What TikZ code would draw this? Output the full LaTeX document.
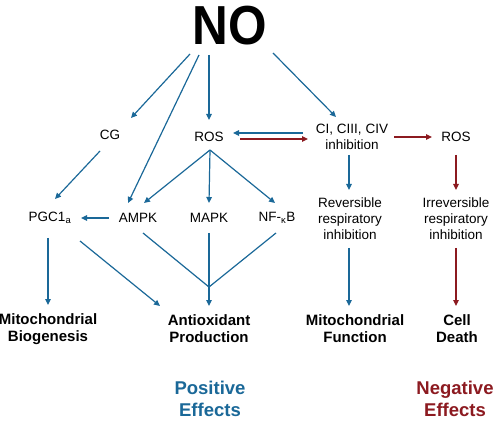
\documentclass[tikz,border=0pt]{standalone}
\usepackage{fontspec}
\setmainfont{Liberation Sans}
\usetikzlibrary{arrows.meta,calc}
\definecolor{posblue}{RGB}{26,104,152}
\definecolor{negred}{RGB}{140,26,32}
\begin{document}
\begin{tikzpicture}
  [x=1pt,y=-1pt,
   every node/.style={inner sep=0pt,align=center,font=\fontsize{13.5}{16}\selectfont},
   lbl/.style={font=\fontsize{15}{17}\selectfont\bfseries},
   eff/.style={font=\fontsize{18.5}{22}\selectfont\bfseries},
   blu/.style={draw=posblue,line width=1.2pt,-{Triangle[length=6pt,width=5.5pt]}},
   rd/.style={draw=negred,line width=1.2pt,-{Triangle[length=6pt,width=5.5pt]}}]
  \useasboundingbox (0,0) rectangle (498,422);
  \node (no) at (230,26) {\fontsize{55}{55}\selectfont\bfseries\scalebox{0.9}[1]{NO}};
  \node (cg) at (110,135) {CG};
  \node (rosl) at (209,137) {ROS};
  \node (ci) at (352,137) {CI, CIII, CIV\\inhibition};
  \node (rosr) at (456,137) {ROS};
  \node (pgc) at (50,218) {PGC1\textsubscript{a}};
  \node (ampk) at (138,218) {AMPK};
  \node (mapk) at (209,218) {MAPK};
  \node (nfkb) at (277,218) {NF-\textsubscript{κ}B};
  \node (rev) at (350,219) {Reversible\\respiratory\\inhibition};
  \node (irr) at (456,219) {Irreversible\\respiratory\\inhibition};
  \node (mb)[lbl] at (48,329) {Mitochondrial\\Biogenesis};
  \node (ap)[lbl] at (209,329) {Antioxidant\\Production};
  \node (mf)[lbl] at (355,329) {Mitochondrial\\Function};
  \node (cd)[lbl] at (457,329) {Cell\\Death};
  \node (pe)[eff,text=posblue] at (210,399) {Positive\\Effects};
  \node (ne)[eff,text=negred] at (455,399) {Negative\\Effects};
  \coordinate (join) at (209,287);

  % positive pathway
  \foreach \a/\ax/\ay/\b/\bx/\by in {no/-40/28/cg/21/-17, no/-31/29/ampk/-10/-15,
      no/-21/29/rosl/0/-17, no/43/27/ci/-16/-20, cg/-10/16/pgc/5/-19,
      rosl/1/13/ampk/6/-15, rosl/1/13/mapk/0/-15, rosl/1/13/nfkb/-2/-15,
      ci/-49/-4/rosl/24/-4, ampk/-29/0/pgc/31/0, pgc/-2/20/mb/0/-24,
      pgc/30/23/ap/-49/-23, mapk/0/15/ap/0/-23, ci/-3/18/rev/-1/-29,
      rev/-1/29/mf/-6/-23}
    \draw[blu] ($(\a)+(\ax,\ay)$) -- ($(\b)+(\bx,\by)$);
  \draw[posblue,line width=1.2pt] ($(ampk)+(5,15)$) -- (join) -- ($(nfkb)+(-1,15)$);

  % negative pathway
  \foreach \a/\ax/\ay/\b/\bx/\by in {rosl/31/2/ci/-44/2, ci/42/0/rosr/-24/0,
      rosr/0/18/irr/0/-29, irr/0/29/cd/-1/-23}
    \draw[rd] ($(\a)+(\ax,\ay)$) -- ($(\b)+(\bx,\by)$);
\end{tikzpicture}
\end{document}
